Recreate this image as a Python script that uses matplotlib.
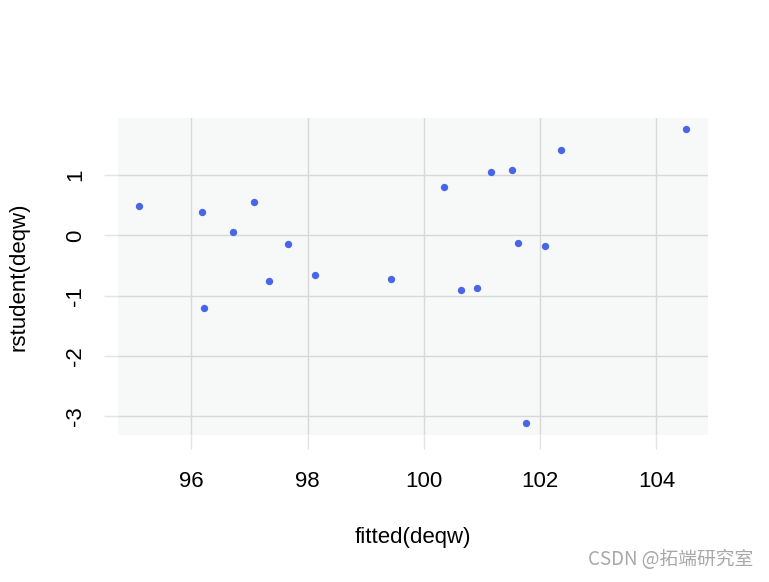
import matplotlib.pyplot as plt

plt.rcParams['font.family'] = ['Liberation Sans', 'DejaVu Sans']
plt.rcParams['axes.unicode_minus'] = False

# fitted values and studentized residuals
fitted = [95.11, 96.19, 97.08, 96.71, 97.67, 97.34, 98.13, 99.44, 96.22,
          104.51, 102.35, 101.16, 101.52, 100.35, 101.62, 102.09, 100.63,
          100.92, 101.76]
rstud = [0.48, 0.38, 0.55, 0.05, -0.15, -0.75, -0.65, -0.73, -1.21,
         1.76, 1.41, 1.05, 1.08, 0.81, -0.12, -0.18, -0.91,
         -0.88, -3.12]
xticks = [96, 98, 100, 102, 104]
yticks = [-3, -2, -1, 0, 1]

fig = plt.figure(figsize=(7.69, 5.82), dpi=100)
ax = fig.add_axes([0.1538, 0.2526, 0.7672, 0.5444])
ax.set_facecolor('#F7F9F8')
ax.scatter(fitted, rstud, s=28, color='#4A66E8', zorder=3, linewidths=0)

ax.set_xlim(94.745, 104.89)
ax.set_ylim(-3.315, 1.947)
ax.set_xticks(xticks)
ax.set_yticks(yticks)
ax.grid(True, color='#D8D8D8', linewidth=1)
ax.set_axisbelow(True)
for s in ax.spines.values():
    s.set_visible(False)

fs = 16
ax.tick_params(axis='both', length=10, color='#E4E4E4', width=1, labelsize=fs)
ax.tick_params(axis='x', pad=16)
ax.tick_params(axis='y', pad=13)
for lab in ax.get_yticklabels():
    lab.set_rotation(90)
    lab.set_va('center')

ax.set_xlabel('fitted(deqw)', fontsize=fs, labelpad=25)
ax.set_ylabel('rstudent(deqw)', fontsize=fs, labelpad=26)

fig.text(0.979, 0.0395, 'CSDN @拓端研究室', ha='right', va='center', fontsize=13.5,
         color='#A8A8A8', family=['Noto Sans CJK SC', 'DejaVu Sans'])

fig.savefig('out.png', dpi=100)
